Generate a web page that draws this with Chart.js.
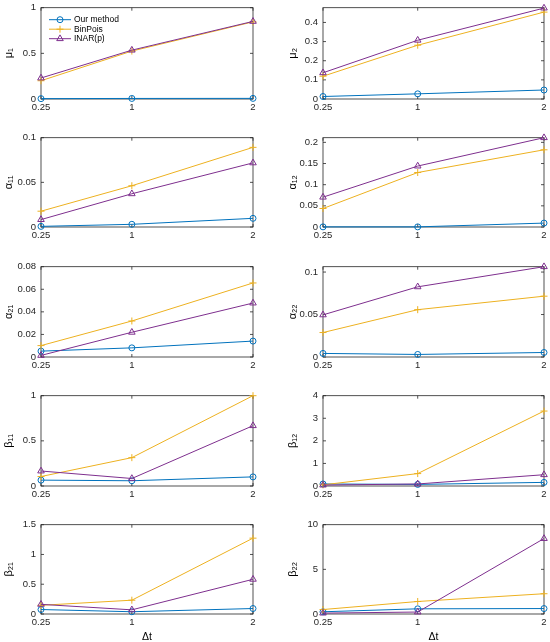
<!DOCTYPE html>
<html><head><meta charset="utf-8">
<script src="https://cdn.jsdelivr.net/npm/chart.js@4.4.1/dist/chart.umd.min.js"></script>
<style>
html,body{margin:0;padding:0;background:#fff}
body{width:550px;height:642px;position:relative;overflow:hidden}
.p{position:absolute}
</style></head><body>
<script>
// ---------------- data ----------------
const xValues = [0.25, 1, 2];
const xTickLabels = ['0.25', '1', '2'];
const seriesNames = ['Our method', 'BinPois', 'INAR(p)'];
const panelTitles = ['μ₁', 'μ₂', 'α₁₁', 'α₁₂', 'α₂₁', 'α₂₂', 'β₁₁', 'β₁₂', 'β₂₁', 'β₂₂'];

// one row per panel (same order as panelTitles), values at Δt = 0.25, 1, 2
const ourMethod = [
  [0.004, 0.006, 0.007],
  [0.013, 0.027, 0.047],
  [0.0007, 0.003, 0.0097],
  [0.0003, 0.0003, 0.0092],
  [0.0052, 0.0081, 0.0141],
  [0.0042, 0.0030, 0.0053],
  [0.065, 0.058, 0.101],
  [0.09, 0.07, 0.16],
  [0.075, 0.038, 0.092],
  [0.25, 0.58, 0.61]
];
const binPois = [
  [0.20, 0.525, 0.845],
  [0.119, 0.281, 0.454],
  [0.0177, 0.0462, 0.0892],
  [0.0437, 0.1287, 0.1824],
  [0.0101, 0.0319, 0.0656],
  [0.0288, 0.0557, 0.0716],
  [0.105, 0.314, 1.0],
  [0.05, 0.55, 3.32],
  [0.146, 0.232, 1.274],
  [0.5, 1.4, 2.27]
];
const inarP = [
  [0.23, 0.535, 0.85],
  [0.137, 0.307, 0.475],
  [0.0083, 0.0372, 0.0718],
  [0.0705, 0.144, 0.211],
  [0.0014, 0.0219, 0.0478],
  [0.0496, 0.0826, 0.1063],
  [0.166, 0.083, 0.668],
  [0.04, 0.09, 0.5],
  [0.162, 0.07, 0.583],
  [0.1, 0.22, 8.45]
];
const yMax = [1, 0.477, 0.1, 0.211, 0.08, 0.1063, 1, 4, 1.5, 10];
const yTicks = [
  [0, 0.5, 1],
  [0, 0.1, 0.2, 0.3, 0.4],
  [0, 0.05, 0.1],
  [0, 0.05, 0.1, 0.15, 0.2],
  [0, 0.02, 0.04, 0.06, 0.08],
  [0, 0.05, 0.1],
  [0, 0.5, 1],
  [0, 1, 2, 3, 4],
  [0, 0.5, 1, 1.5],
  [0, 5, 10]
];
const yTickLabels = [
  ['0', '0.5', '1'],
  ['0', '0.1', '0.2', '0.3', '0.4'],
  ['0', '0.05', '0.1'],
  ['0', '0.05', '0.1', '0.15', '0.2'],
  ['0', '0.02', '0.04', '0.06', '0.08'],
  ['0', '0.05', '0.1'],
  ['0', '0.5', '1'],
  ['0', '1', '2', '3', '4'],
  ['0', '0.5', '1', '1.5'],
  ['0', '5', '10']
];
const xAxisTitle = 'Δt';

// ---------------- style ----------------
const seriesData = [ourMethod, binPois, inarP];
const colors = ['#0072BD', '#EDB120', '#7E2F8E'];
const pointStyles = ['circle', 'cross', 'triangle'];
const pointRadii = [3, 3.5, 3.8];
const FONT = "'Liberation Sans', Arial, Helvetica, sans-serif";
const TXT = '#262626';

const rowTop = [5, 135, 264, 393, 522];
const rowBottom = [99, 227, 357, 486, 614];
const colLeft = [0, 275];
const plotLeft = [41, 48];
const plotRight = [253, 269];
const titlePad = [2, 11];

Chart.defaults.font.family = FONT;
Chart.defaults.color = TXT;

const boxPlugin = {
  id: 'matlabBox',
  beforeDatasetsDraw(chart) {
    const {ctx, chartArea: a, scales} = chart;
    ctx.save();
    ctx.strokeStyle = TXT;
    ctx.lineWidth = 0.8;
    ctx.strokeRect(a.left, a.top, a.right - a.left, a.bottom - a.top);
    const L = 3;
    ctx.beginPath();
    scales.x.ticks.forEach(t => {
      const px = scales.x.getPixelForValue(t.value);
      ctx.moveTo(px, a.bottom); ctx.lineTo(px, a.bottom - L);
      ctx.moveTo(px, a.top); ctx.lineTo(px, a.top + L);
    });
    scales.y.ticks.forEach(t => {
      const py = scales.y.getPixelForValue(t.value);
      ctx.moveTo(a.left, py); ctx.lineTo(a.left + L, py);
      ctx.moveTo(a.right, py); ctx.lineTo(a.right - L, py);
    });
    ctx.stroke();
    ctx.restore();
  }
};

const legendPlugin = {
  id: 'insideLegend',
  afterDraw(chart) {
    if (!chart.options.plugins.insideLegend || !chart.options.plugins.insideLegend.show) return;
    const {ctx, chartArea: a} = chart;
    ctx.save();
    ctx.font = '8.5px ' + FONT;
    ctx.textBaseline = 'middle';
    ctx.textAlign = 'left';
    const rows = [12, 21.5, 31];
    seriesNames.forEach((name, k) => {
      const y = a.top + rows[k];
      const x0 = a.left + 8, x1 = a.left + 30;
      ctx.strokeStyle = colors[k];
      ctx.fillStyle = 'rgba(0,0,0,0)';
      ctx.lineWidth = 1;
      ctx.beginPath(); ctx.moveTo(x0, y); ctx.lineTo(x1, y); ctx.stroke();
      Chart.helpers.drawPoint(ctx, {
        pointStyle: pointStyles[k], radius: pointRadii[k], rotation: 0,
        borderWidth: 1
      }, (x0 + x1) / 2, y);
      ctx.fillStyle = '#000';
      ctx.fillText(name, a.left + 33, y);
    });
    ctx.restore();
  }
};

panelTitles.forEach((title, i) => {
  const col = i % 2, row = Math.floor(i / 2);
  const last = row === 4;
  const padTop = 8;
  const bottomSpace = last ? 30 : 20;
  const h = rowBottom[row] - rowTop[row] + padTop + bottomSpace;
  const div = document.createElement('div');
  div.className = 'p';
  div.style.left = colLeft[col] + 'px';
  div.style.top = (rowTop[row] - padTop) + 'px';
  div.style.width = '275px';
  div.style.height = h + 'px';
  const cv = document.createElement('canvas');
  div.appendChild(cv);
  document.body.appendChild(div);

  const datasets = seriesNames.map((name, k) => ({
    label: name,
    data: xValues.map((x, j) => ({x: x, y: seriesData[k][i][j]})),
    borderColor: colors[k],
    backgroundColor: 'rgba(0,0,0,0)',
    borderWidth: 1,
    pointStyle: pointStyles[k],
    pointRadius: pointRadii[k],
    pointBorderWidth: 1,
    pointBorderColor: colors[k],
    pointBackgroundColor: 'rgba(0,0,0,0)',
    tension: 0,
    clip: false,
    order: 2 - k
  }));

  new Chart(cv, {
    type: 'line',
    data: {datasets},
    plugins: [boxPlugin, legendPlugin],
    options: {
      responsive: true,
      maintainAspectRatio: false,
      animation: false,
      events: [],
      layout: {padding: {top: padTop, left: 0, right: 275 - plotRight[col], bottom: 0}},
      plugins: {
        legend: {display: false},
        tooltip: {enabled: false},
        insideLegend: {show: i === 0}
      },
      scales: {
        x: {
          type: 'linear',
          min: 0.25, max: 2,
          afterBuildTicks: s => { s.ticks = xValues.map(v => ({value: v})); },
          afterFit: s => { s.height = bottomSpace; },
          grid: {display: false, drawTicks: false},
          border: {display: false},
          ticks: {
            autoSkip: false, maxRotation: 0, padding: 3,
            color: TXT, font: {size: 9.5, family: FONT},
            callback: (v, idx) => xTickLabels[idx]
          },
          title: {
            display: last, text: xAxisTitle, color: '#000',
            font: {size: 10.5, family: FONT, weight: 'normal'},
            padding: {top: 0, bottom: 1}
          }
        },
        y: {
          type: 'linear',
          min: 0, max: yMax[i],
          afterBuildTicks: s => { s.ticks = yTicks[i].map(v => ({value: v})); },
          afterFit: s => { s.width = plotLeft[col]; },
          grid: {display: false, drawTicks: false},
          border: {display: false},
          ticks: {
            padding: 5, color: TXT, font: {size: 9.5, family: FONT},
            callback: (v, idx) => yTickLabels[i][idx]
          },
          title: {
            display: true, text: title, color: '#000',
            font: {size: 11, family: FONT},
            padding: {top: titlePad[col], bottom: 0}
          }
        }
      }
    }
  });
});
</script>
</body></html>
